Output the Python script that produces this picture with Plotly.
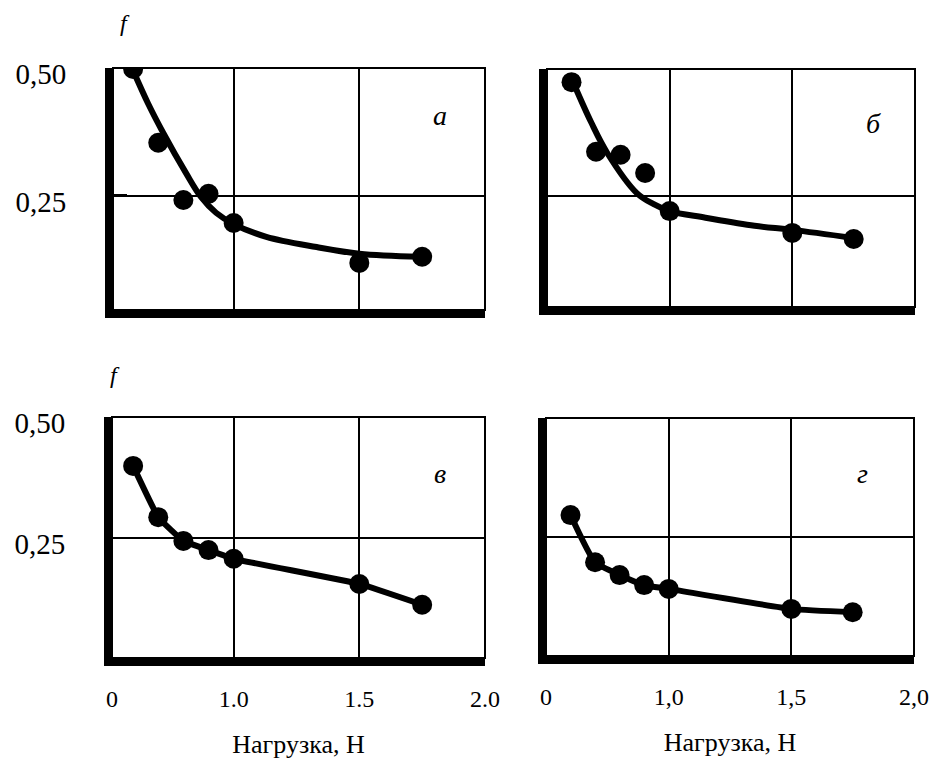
import plotly.graph_objects as go

# ---- data ----
load_n = [0.6, 0.7, 0.8, 0.9, 1.0, 1.5, 1.75]

f_a = [0.498, 0.354, 0.242, 0.254, 0.197, 0.119, 0.131]
curve_a_x = [0.6, 0.66, 0.72, 0.81, 0.87, 0.93, 1.0, 1.13, 1.33, 1.5, 1.74]
curve_a_y = [0.495, 0.43, 0.373, 0.295, 0.248, 0.217, 0.195, 0.170, 0.150, 0.137, 0.131]

f_b = [0.474, 0.337, 0.331, 0.295, 0.220, 0.177, 0.165]
curve_b_x = [0.61, 0.68, 0.745, 0.865, 0.933, 1.0, 1.146, 1.346, 1.5, 1.75]
curve_b_y = [0.47, 0.395, 0.335, 0.256, 0.234, 0.220, 0.207, 0.191, 0.183, 0.167]

f_c = [0.399, 0.293, 0.244, 0.225, 0.207, 0.155, 0.112]
f_d = [0.296, 0.197, 0.170, 0.149, 0.141, 0.099, 0.092]

x_tickvals = [0.5, 1.0, 1.5, 2.0]
x_ticktext_left = ["0", "1.0", "1.5", "2.0"]
x_ticktext_right = ["0", "1,0", "1,5", "2,0"]
y_tickvals = [0.25, 0.5]
y_ticktext = ["0,25", "0,50"]
panel_letters = ["a", "б", "в", "г"]
x_title = "Нагрузка, Н"
y_title = "f"

FONT = "Liberation Serif"
W, H = 929, 767

fig = go.Figure()

def px_x(p):
    return p / W

def px_y(p):
    return 1 - p / H

# plot-area pixel boxes (left, right, top, bottom); thick axis lines sit just outside left/bottom
boxes = {
    "a": (113, 485, 68, 310),
    "b": (547, 915, 69, 307),
    "c": (112, 485, 417, 658),
    "d": (546, 914, 418, 656),
}
xranges = {"a": [0.52, 2.0], "b": [0.5, 2.0], "c": [0.516, 2.0], "d": [0.5, 2.0]}
yranges = {"a": [0.027, 0.5], "b": [0.031, 0.5], "c": [0.002, 0.5], "d": [0.0, 0.5]}
axis_ids = {"a": ("x", "y"), "b": ("x2", "y2"), "c": ("x3", "y3"), "d": ("x4", "y4")}

marker = dict(color="black", size=20)

fig.add_trace(go.Scatter(x=curve_a_x, y=curve_a_y, mode="lines", line=dict(color="black", width=6, shape="spline", smoothing=1.0), xaxis="x", yaxis="y", showlegend=False))
fig.add_trace(go.Scatter(x=load_n, y=f_a, mode="markers", marker=marker, xaxis="x", yaxis="y", showlegend=False))
fig.add_trace(go.Scatter(x=curve_b_x, y=curve_b_y, mode="lines", line=dict(color="black", width=6, shape="spline", smoothing=1.0), xaxis="x2", yaxis="y2", showlegend=False))
fig.add_trace(go.Scatter(x=load_n, y=f_b, mode="markers", marker=marker, xaxis="x2", yaxis="y2", showlegend=False))
fig.add_trace(go.Scatter(x=load_n, y=f_c, mode="lines+markers", marker=marker, line=dict(color="black", width=6, shape="spline", smoothing=0.3), xaxis="x3", yaxis="y3", showlegend=False))
fig.add_trace(go.Scatter(x=load_n, y=f_d, mode="lines+markers", marker=marker, line=dict(color="black", width=6, shape="spline", smoothing=0.5), xaxis="x4", yaxis="y4", showlegend=False))

layout = dict(
    width=W, height=H,
    margin=dict(l=0, r=0, t=0, b=0, pad=0, autoexpand=False),
    paper_bgcolor="white", plot_bgcolor="white",
    font=dict(family=FONT, color="black"),
    showlegend=False,
)

shapes = []
annotations = []
for key, (l, r, t, b) in boxes.items():
    xa, ya = axis_ids[key]
    xname = "xaxis" + xa[1:]
    yname = "yaxis" + ya[1:]
    bottom_row = key in ("c", "d")
    left_col = key in ("a", "c")
    xr = xranges[key]
    # the "0" label sits on the left axis line (start of the visible range)
    tv = [max(x_tickvals[0], xr[0])] + x_tickvals[1:]
    layout[xname] = dict(
        domain=[px_x(l), px_x(r)], anchor=ya, range=xr, automargin=False,
        tickmode="array", tickvals=tv,
        ticktext=x_ticktext_left if left_col else x_ticktext_right,
        showticklabels=bottom_row, ticks="",
        tickfont=dict(size=24, family=FONT), ticklabelstandoff=12,
        showgrid=True, gridcolor="black", gridwidth=1.5,
        zeroline=False, showline=True, linecolor="black", linewidth=8,
        fixedrange=True,
    )
    if bottom_row:
        layout[xname]["title"] = dict(text=x_title, font=dict(size=26, family=FONT), standoff=27)
    layout[yname] = dict(
        domain=[px_y(b), px_y(t)], anchor=xa, range=yranges[key], automargin=False,
        tickmode="array", tickvals=y_tickvals, ticktext=y_ticktext,
        showticklabels=left_col,
        ticks="inside" if key == "a" else "", ticklen=14, tickwidth=2.5, tickcolor="black",
        tickfont=dict(size=29, family=FONT), ticklabelstandoff=33, ticklabelshift=6,
        showgrid=True, gridcolor="black", gridwidth=1.5,
        zeroline=False, showline=True, linecolor="black", linewidth=8,
        fixedrange=True,
    )
    shapes.append(dict(type="rect", xref=xa + " domain", yref=ya + " domain", x0=0, x1=1, y0=0, y1=1,
                       line=dict(color="black", width=2), layer="below"))

letter_pos = {"a": (1.82, 0.408), "b": (1.83, 0.392), "c": (1.82, 0.384), "d": (1.79, 0.384)}
for key, letter in zip(["a", "b", "c", "d"], panel_letters):
    xa, ya = axis_ids[key]
    lx, ly = letter_pos[key]
    annotations.append(dict(text="<i>%s</i>" % letter, x=lx, y=ly, xref=xa, yref=ya, showarrow=False,
                            xanchor="center", yanchor="middle", font=dict(size=28, family=FONT)))

for (fx, fy) in [(125, 23), (115, 375)]:
    annotations.append(dict(text="<i>%s</i>" % y_title, x=px_x(fx), y=px_y(fy), xref="paper", yref="paper",
                            showarrow=False, xanchor="center", yanchor="middle", font=dict(size=24, family=FONT)))

layout["shapes"] = shapes
layout["annotations"] = annotations
fig.update_layout(**layout)

fig.write_html("out.html", config={"displayModeBar": False},
               post_script="document.body.style.margin='0';")
